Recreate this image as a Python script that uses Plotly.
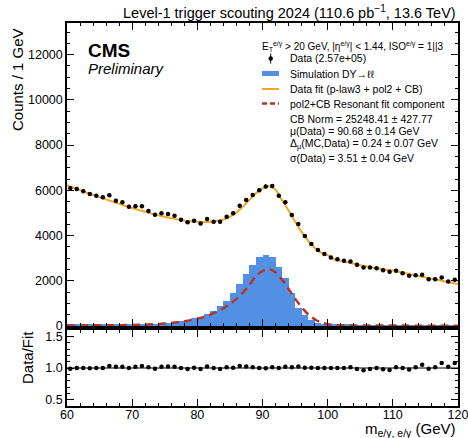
import numpy as np
import plotly.graph_objects as go

# ---------------- data ----------------
bin_centers = list(np.arange(60.5, 120.0, 1.0))

data_counts = [6089, 6062, 5957, 5840, 5765, 5690, 5780, 5544, 5470, 5278,
               5292, 5292, 5087, 4923, 4982, 4953, 4879, 4701, 4583, 4657,
               4538, 4731, 4612, 4612, 4834, 4982, 5322, 5574, 5796, 6000,
               6165, 6195, 5765, 5470, 4909, 4510, 3978, 3623, 3357, 3180,
               3030, 2957, 2883, 2853, 2705, 2587, 2587, 2557, 2469, 2394,
               2439, 2336, 2218, 2247, 2262, 2070, 2070, 2144, 1966, 2040]

ratio_values = [0.99, 1.00, 1.00, 0.995, 1.00, 1.00, 1.03, 1.02, 1.02, 1.00,
                1.02, 1.03, 1.01, 0.99, 1.02, 1.025, 1.02, 1.00, 0.985, 1.005,
                0.985, 1.025, 1.00, 0.985, 1.01, 1.005, 1.03, 1.025, 1.01, 1.00,
                0.995, 1.01, 1.00, 1.02, 1.01, 1.025, 1.005, 1.005, 1.00, 1.00,
                1.00, 1.00, 1.00, 1.01, 0.985, 0.965, 0.985, 1.00, 0.98, 0.97,
                1.01, 1.00, 0.975, 1.01, 1.05, 0.99, 1.01, 1.08, 1.02, 1.08]

sim_counts = [45, 47, 48, 50, 52, 54, 56, 58, 60, 63, 66, 70,
              74, 90, 118, 148, 177, 222, 266, 340, 400, 517, 665, 887, 1109,
              1478, 1848, 2292, 2690, 3030, 3150, 3030, 2617, 2143, 1478, 813,
              488, 266, 148, 104, 74,
              60, 52, 46, 42, 38, 35, 33, 31, 29, 28, 27, 26, 25, 24, 23, 22, 21, 20, 19]

fit_x = list(range(60, 121))
fit_values = [6230, 6120, 6010, 5900, 5800, 5700, 5600, 5500, 5400, 5310,
              5220, 5130, 5050, 4970, 4900, 4830, 4770, 4710, 4660, 4630,
              4610, 4600, 4610, 4640, 4710, 4830, 5020, 5280, 5580, 5870,
              6090, 6180, 6030, 5560, 5110, 4620, 4160, 3770, 3460, 3240,
              3130, 2950, 2880, 2820, 2750, 2690, 2630, 2580, 2530, 2490,
              2450, 2390, 2330, 2270, 2210, 2150, 2090, 2030, 1970, 1910, 1860]

resonant_values = [25, 26, 27, 28, 29, 30, 32, 34, 36, 40,
                   45, 52, 62, 75, 92, 112, 138, 170, 210, 260,
                   325, 405, 505, 630, 785, 970, 1200, 1480, 1820, 2220,
                   2430, 2520, 2370, 2050, 1640, 1210, 830, 520, 300, 160,
                   80, 45, 30, 25, 22, 20, 20, 19, 19, 18,
                   18, 17, 17, 16, 16, 15, 15, 14, 14, 13, 13]

data_err = list(np.sqrt(np.array(data_counts, dtype=float)))
ratio_err = list(np.sqrt(np.array(data_counts, dtype=float)) / np.array(data_counts) * np.array(ratio_values))

# ---------------- style ----------------
FONT = "Liberation Sans, Arial, Helvetica, sans-serif"
BLUE = "#5290e4"
ORANGE = "#f4a628"
RED = "#b5342b"

W, H = 468, 438
L, R, T, B = 67, 10, 23, 32
PW, PH = W - L - R, H - T - B


def px(x):
    return (x - L) / PW


def py(y):
    return (H - B - y) / PH


fig = go.Figure()

fig.add_trace(go.Bar(x=bin_centers, y=sim_counts, width=1.0,
                     marker=dict(color=BLUE, line=dict(width=0)),
                     xaxis="x", yaxis="y", showlegend=False))
fig.add_trace(go.Scatter(x=fit_x, y=fit_values, mode="lines",
                         line=dict(color=ORANGE, width=2, shape="spline"),
                         xaxis="x", yaxis="y", showlegend=False))
fig.add_trace(go.Scatter(x=fit_x, y=resonant_values, mode="lines",
                         line=dict(color=RED, width=2.5, dash="8px,5px", shape="spline"),
                         xaxis="x", yaxis="y", showlegend=False))
fig.add_trace(go.Scatter(x=bin_centers, y=data_counts, mode="markers",
                         marker=dict(color="black", size=4.5),
                         error_y=dict(type="data", array=data_err, color="black", thickness=1, width=0),
                         xaxis="x", yaxis="y", showlegend=False))
fig.add_trace(go.Scatter(x=bin_centers, y=ratio_values, mode="markers",
                         marker=dict(color="black", size=4.5),
                         error_y=dict(type="data", array=ratio_err, color="black", thickness=1, width=0),
                         xaxis="x2", yaxis="y2", showlegend=False))

axis_common = dict(showline=True, linewidth=1.5, linecolor="black", mirror="ticks",
                   ticks="inside", ticklen=7, tickwidth=1, tickcolor="black",
                   showgrid=False, zeroline=False, automargin=False,
                   ticklabeloverflow="allow",
                   tickfont=dict(family=FONT, size=12.5, color="black"))

top_dom = [py(326), 1.0]
bot_dom = [0.0, py(330)]

fig.update_layout(
    width=W, height=H, autosize=False,
    margin=dict(l=L, r=R, t=T, b=B, pad=0),
    paper_bgcolor="white", plot_bgcolor="white",
    bargap=0, showlegend=False,
    font=dict(family=FONT, color="black"),
    xaxis=dict(domain=[0, 1], anchor="y", range=[60, 120], tick0=60, dtick=10,
               showticklabels=False, matches="x2",
               minor=dict(dtick=2, ticklen=3.5, ticks="inside", tickcolor="black"),
               **axis_common),
    yaxis=dict(domain=top_dom, anchor="x", range=[0, 13400], tick0=0, dtick=2000,
               tickformat="d",
               minor=dict(dtick=500, ticklen=3.5, ticks="inside", tickcolor="black"),
               **axis_common),
    xaxis2=dict(domain=[0, 1], anchor="y2", range=[60, 120], tick0=60, dtick=10,
                ticklabelstandoff=-4,
                minor=dict(dtick=2, ticklen=3.5, ticks="inside", tickcolor="black"),
                **axis_common),
    yaxis2=dict(domain=bot_dom, anchor="x2", range=[0.4, 1.6], tick0=0.5, dtick=0.5,
                tickformat=".1f",
                minor=dict(dtick=0.1, ticklen=3.5, ticks="inside", tickcolor="black"),
                **axis_common),
)

fig.add_shape(type="line", xref="x2", yref="y2", x0=60, x1=120, y0=1, y1=1,
              line=dict(color="black", width=1), layer="below")

ann = []


def text(x, y, s, size, xanchor="left", yanchor="middle", angle=0):
    ann.append(dict(x=px(x), y=py(y), xref="paper", yref="paper", text=s, showarrow=False,
                    xanchor=xanchor, yanchor=yanchor, textangle=angle,
                    font=dict(family=FONT, size=size, color="black")))


text(458, 12, "Level-1 trigger scouting 2024 (110.6 pb<sup>−1</sup>, 13.6 TeV)", 14.5, xanchor="right")
text(86, 50, "<b>CMS</b>", 19)
text(86, 68, "<i>Preliminary</i>", 15)
text(18, 80, "Counts / 1 GeV", 15, xanchor="center", angle=-90)
text(27, 358, "Data/Fit", 15, xanchor="center", angle=-90)
text(458, 429, "m<sub>e/γ, e/γ</sub> (GeV)", 15, xanchor="right")

text(260, 47, "E<sub>T</sub><sup>e/γ</sup> &gt; 20 GeV, |η<sup>e/γ</sup>| &lt; 1.44, ISO<sup>e/γ</sup> = 1||3", 10)
leg_x = 288
text(leg_x, 58.5, "Data (2.57e+05)", 10.5)
text(leg_x, 73.5, "Simulation DY→ℓℓ", 10.5)
text(leg_x, 89, "Data fit (p-law3 + pol2 + CB)", 10.5)
text(leg_x, 103.5, "pol2+CB Resonant fit component", 10.5)
text(leg_x, 119, "CB Norm = 25248.41 ± 427.77", 10.5)
text(leg_x, 131, "μ(Data) = 90.68 ± 0.14 GeV", 10.5)
text(leg_x, 144, "Δ<sub>μ</sub>(MC,Data) = 0.24 ± 0.07 GeV", 10.5)
text(leg_x, 157.5, "σ(Data) = 3.51 ± 0.04 GeV", 10.5)
fig.update_layout(annotations=ann)

# legend symbols
fig.add_shape(type="line", xref="paper", yref="paper", x0=px(270.7), x1=px(270.7), y0=py(53.5), y1=py(63.5),
              line=dict(color="black", width=1))
fig.add_shape(type="circle", xref="paper", yref="paper", x0=px(268.5), x1=px(272.9), y0=py(56.3), y1=py(60.7),
              fillcolor="black", line=dict(color="black", width=0))
fig.add_shape(type="rect", xref="paper", yref="paper", x0=px(262), x1=px(279), y0=py(71), y1=py(76),
              fillcolor=BLUE, line=dict(width=0))
fig.add_shape(type="line", xref="paper", yref="paper", x0=px(262), x1=px(279), y0=py(89), y1=py(89),
              line=dict(color=ORANGE, width=2))
fig.add_shape(type="line", xref="paper", yref="paper", x0=px(262), x1=px(279), y0=py(103.5), y1=py(103.5),
              line=dict(color=RED, width=2.5, dash="5px,3px"))

fig.write_html("out.html", config={"displayModeBar": False, "responsive": False},
               post_script="document.body.style.margin='0';document.body.style.overflow='hidden';")
